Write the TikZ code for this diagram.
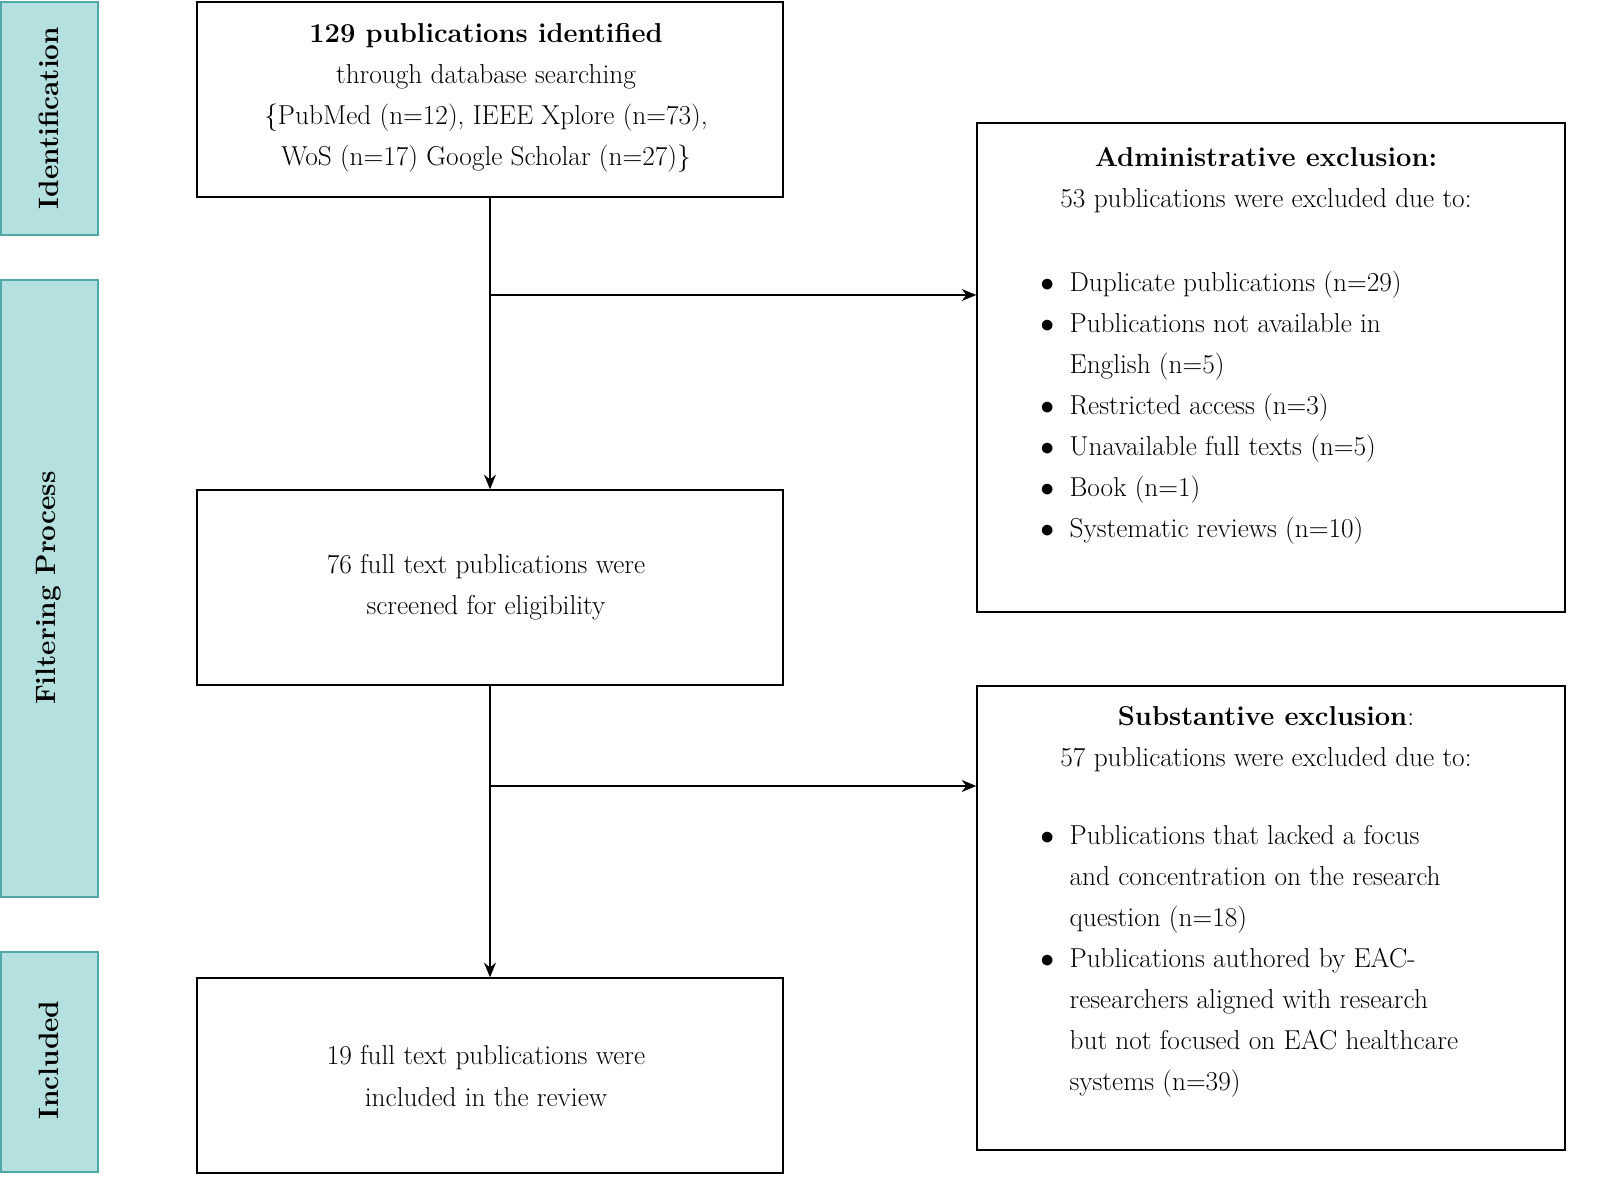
\documentclass[tikz,border=0pt]{standalone}
\usetikzlibrary{arrows.meta}
\definecolor{barfill}{HTML}{B4E0E0}
\definecolor{barline}{HTML}{4FA8A8}
\begin{document}
\begin{tikzpicture}[x=0.75pt,y=-0.75pt,
  bar/.style={draw=barline,line width=1.8pt,fill=barfill},
  bartext/.style={rotate=90,font=\fontsize{21}{25}\selectfont\bfseries},
  box/.style={draw,line width=1pt,inner sep=0pt},
  mbox/.style={box,minimum width=439.5pt,minimum height=146.25pt},
  txt/.style={font=\fontsize{20.5}{30.8}\selectfont,align=center,inner sep=0pt},
  item/.style={font=\fontsize{20.5}{30.8}\selectfont,align=left,anchor=north west,inner sep=0pt},
  arr/.style={line width=1.2pt,-{Stealth[length=11pt,width=9pt]}},
  ln/.style={line width=1.2pt}]
\useasboundingbox (0,0) rectangle (1599,1201);
% side bars
\draw[bar] (1,2) rectangle (98,235);
\node[bartext] (l1) at (49,118) {Identification};
\draw[bar] (1,280) rectangle (98,897);
\node[bartext] (l2) at (49,588) {Filtering Process};
\draw[bar] (1,952) rectangle (98,1172);
\node[bartext] (l3) at (49,1060) {Included};
% main boxes
\node[mbox] (b1) at (490,99.5) {};
\node[txt] (t1) at (486,98) {\textbf{129 publications identified}\\through database searching\\\{PubMed (n=12), IEEE Xplore (n=73),\\WoS (n=17) Google Scholar (n=27)\}};
\node[mbox] (b2) at (490,587.5) {};
\node[txt] (t2) at (486,587) {76 full text publications were\\screened for eligibility};
\node[mbox] (b3) at (490,1075.5) {};
\node[txt] (t3) at (486,1076) {19 full text publications were\\included in the review};
% side boxes
\node[box,minimum width=441pt,minimum height=366.75pt] (a) at (1271,367.5) {};
\node[txt] (at) at (1266,180) {\textbf{Administrative exclusion:}\\53 publications were excluded due to:};
\node[item] (ai) at (1040,262) {%
\begin{tabular}{@{}p{22pt}@{}l@{}}
$\bullet$ & Duplicate publications (n=29)\\
$\bullet$ & Publications not available in\\
 & English (n=5)\\
$\bullet$ & Restricted access (n=3)\\
$\bullet$ & Unavailable full texts (n=5)\\
$\bullet$ & Book (n=1)\\
$\bullet$ & Systematic reviews (n=10)
\end{tabular}};
\node[box,minimum width=441pt,minimum height=348pt] (s) at (1271,918) {};
\node[txt] (st) at (1266,739) {\textbf{Substantive exclusion}:\\57 publications were excluded due to:};
\node[item] (si) at (1040,815) {%
\begin{tabular}{@{}p{22pt}@{}l@{}}
$\bullet$ & Publications that lacked a focus\\
 & and concentration on the research\\
 & question (n=18)\\
$\bullet$ & Publications authored by EAC-\\
 & researchers aligned with research\\
 & but not focused on EAC healthcare\\
 & systems (n=39)
\end{tabular}};
% connectors
\coordinate (j1) at (490,295);
\coordinate (j2) at (490,786);
\draw[arr] (b1.south) -- (b2.north);
\draw[arr] (j1) -- (j1 -| a.west);
\draw[arr] (b2.south) -- (b3.north);
\draw[arr] (j2) -- (j2 -| s.west);
\end{tikzpicture}
\end{document}
